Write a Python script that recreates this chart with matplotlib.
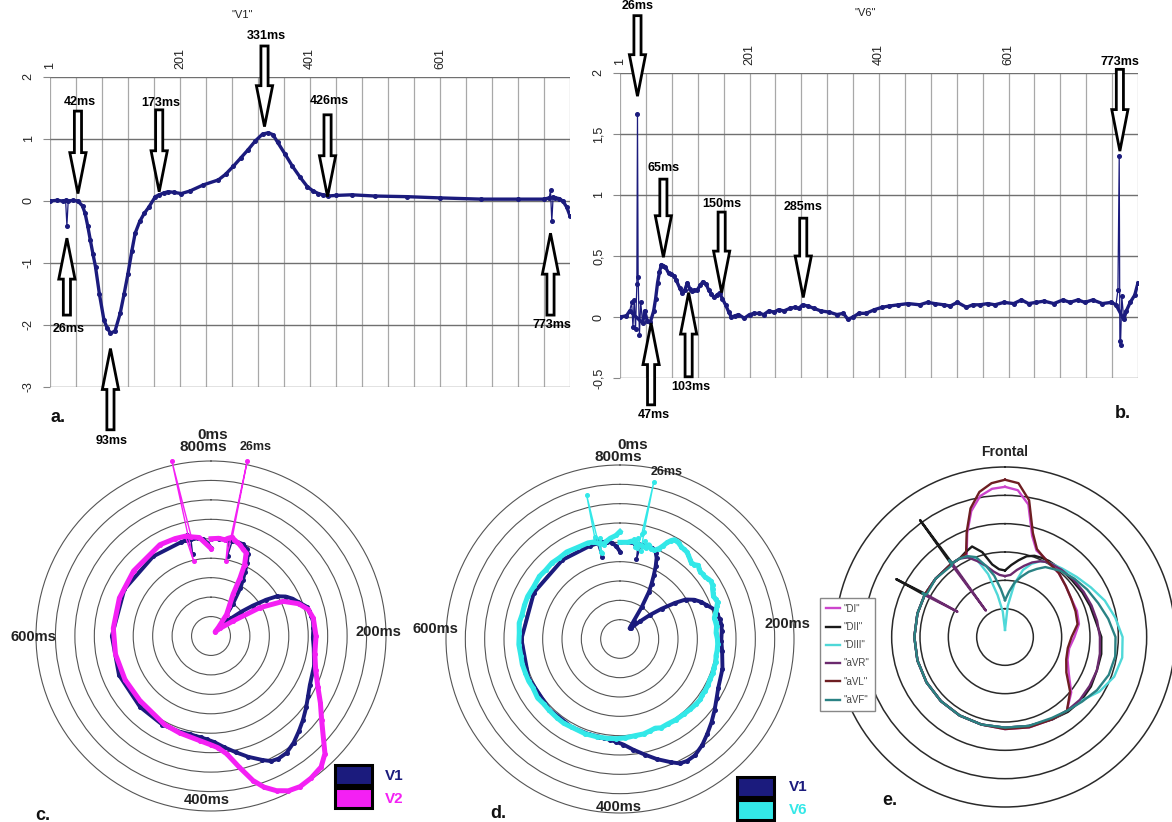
import numpy as np
import matplotlib
matplotlib.use('Agg')
import matplotlib.pyplot as plt
from matplotlib.patches import FancyArrow, Rectangle

# ---- data ----
# lead V1 (ms, mV)
v1_ms = [0, 10, 20, 24, 26, 28, 35, 43, 50, 54, 58, 62, 66, 70, 76, 83, 88, 93, 100, 108,
         114, 120, 126, 131, 138, 145, 152, 162, 168, 175, 182, 190, 202, 215, 236, 259, 270,
         282, 294, 305, 316, 327, 336, 343, 350, 362, 373, 385, 396, 405, 413, 420, 427, 440,
         464, 500, 549, 600, 663, 720, 760, 768, 770, 772, 774, 777, 783, 789, 795, 800]
v1_val = [0.0, 0.01, 0.0, 0.01, -0.4, 0.0, 0.01, 0.0, -0.08, -0.2, -0.4, -0.63, -0.85, -1.06,
          -1.5, -1.92, -2.05, -2.13, -2.1, -1.81, -1.5, -1.17, -0.8, -0.52, -0.33, -0.2, -0.1,
          0.07, 0.1, 0.13, 0.15, 0.14, 0.12, 0.16, 0.26, 0.34, 0.43, 0.56, 0.7, 0.83, 0.97,
          1.08, 1.1, 1.07, 0.95, 0.75, 0.56, 0.38, 0.23, 0.16, 0.12, 0.1, 0.08, 0.09, 0.1,
          0.08, 0.07, 0.05, 0.03, 0.03, 0.03, 0.05, 0.17, -0.33, 0.06, 0.05, 0.04, 0.0, -0.1, -0.24]
v1_spikes = [26, 770, 772]

# lead V6
v6_ms = [0, 10, 15, 18, 20, 22, 24, 26, 27, 28, 30, 32, 35, 38, 42, 47, 52, 55, 58, 61, 64, 67,
         70, 75, 79, 83, 87, 92, 96, 100, 104, 108, 111, 115, 119, 124, 128, 133, 137, 141, 145,
         150, 154, 158, 163, 168, 172, 178, 183, 192, 200, 207, 215, 222, 230, 238, 245, 253,
         262, 270, 276, 282, 290, 300, 310, 323, 335, 345, 352, 360, 369, 380, 393, 405, 416,
         430, 445, 463, 475, 486, 500, 510, 521, 535, 545, 556, 568, 579, 593, 608, 620, 631,
         643, 655, 670, 684, 695, 707, 718, 730, 745, 759, 766, 769, 771, 772, 773, 775, 778,
         782, 788, 795, 800]
v6_val = [0.0, 0.01, 0.05, 0.12, -0.08, 0.14, -0.1, 0.27, 1.66, 0.33, -0.15, 0.12, -0.05, 0.05,
          -0.03, -0.04, 0.05, 0.15, 0.28, 0.37, 0.43, 0.42, 0.41, 0.36, 0.35, 0.34, 0.3, 0.24,
          0.2, 0.22, 0.28, 0.23, 0.21, 0.22, 0.22, 0.26, 0.29, 0.27, 0.22, 0.19, 0.16, 0.18, 0.2,
          0.15, 0.1, 0.04, 0.0, 0.01, 0.02, -0.01, 0.02, 0.03, 0.03, 0.02, 0.05, 0.04, 0.06,
          0.05, 0.07, 0.08, 0.07, 0.1, 0.09, 0.07, 0.05, 0.04, 0.02, 0.03, -0.02, 0.0, 0.03,
          0.03, 0.06, 0.08, 0.09, 0.1, 0.11, 0.1, 0.12, 0.11, 0.1, 0.09, 0.12, 0.08, 0.1, 0.1,
          0.11, 0.1, 0.12, 0.11, 0.14, 0.11, 0.12, 0.13, 0.11, 0.14, 0.12, 0.14, 0.12, 0.14,
          0.11, 0.12, 0.1, 0.22, 1.32, -0.2, -0.23, 0.17, -0.02, 0.05, 0.12, 0.18, 0.28]
v6_spikes = [18, 20, 22, 24, 26, 27, 28, 30, 32, 769, 771, 772, 773, 775]

# lead V2 (only shown in the polar plot)
v2_ms = [0, 10, 18, 22, 25, 26, 27, 30, 35, 40, 45, 51, 56, 59, 62, 70, 80, 90, 100, 110, 124,
         133, 143, 155, 166, 178, 200, 222, 240, 257, 270, 283, 302, 311, 322, 332, 341, 349,
         357, 364, 373, 383, 392, 400, 413, 440, 462, 506, 540, 576, 610, 650, 689, 735, 755,
         768, 771, 772, 775, 785, 800]
v2_val = [0.0, 0.02, 0.0, 0.05, -0.53, 2.1, 0.1, 0.05, 0.0, -0.05, -0.12, -0.18, -0.47, -0.83,
          -1.29, -1.6, -1.82, -2.2, -2.35, -2.2, -1.81, -1.05, -0.44, -0.1, 0.09, 0.17, 0.2,
          0.21, 0.33, 0.55, 0.8, 1.08, 1.71, 1.9, 1.97, 2.0, 1.95, 1.82, 1.62, 1.37, 0.95, 0.56,
          0.38, 0.3, 0.21, 0.12, 0.07, -0.03, -0.02, 0.0, 0.02, 0.05, 0.1, 0.19, 0.17, 0.15,
          -0.53, 2.1, 0.1, 0.05, -0.25]
v2_spikes = [25, 26, 771, 772]

# frontal plane loops (angle in degrees, radius in grid rings)
front_deg = [0, 5, 10, 15, 20, 25, 30, 40, 50, 60, 70, 80, 90, 100, 110, 120, 130, 140, 150,
             165, 180, 195, 210, 225, 240, 255, 270, 285, 297.6, 298, 298.4, 310, 323.6, 324,
             324.4, 330, 335, 340, 345, 350, 355, 360]
front_DI = [5.3, 5.2, 4.75, 3.7, 3.25, 3.15, 3.05, 2.95, 2.8, 2.7, 2.7, 2.65, 2.45, 2.3, 2.35,
            2.6, 3.05, 3.4, 3.35, 3.3, 3.25, 3.2, 3.2, 3.2, 3.2, 3.2, 3.2, 3.2, 3.2, 3.0, 3.2,
            3.2, 3.2, 3.2, 3.2, 3.2, 3.2, 3.9, 4.6, 5.05, 5.25, 5.3]
front_DII = [2.35, 2.55, 2.75, 2.95, 3.05, 3.08, 3.1, 3.1, 3.1, 3.15, 3.2, 3.25, 3.4, 3.45, 3.45,
             3.5, 3.5, 3.45, 3.35, 3.25, 3.2, 3.2, 3.2, 3.2, 3.2, 3.2, 3.2, 3.2, 3.2, 4.35, 3.2,
             3.2, 3.2, 5.1, 3.2, 3.2, 3.3, 3.4, 3.1, 2.6, 2.4, 2.35]
front_DIII = [0.25, 1.1, 1.9, 2.45, 2.75, 2.95, 3.05, 3.15, 3.3, 3.5, 3.75, 3.95, 4.15, 4.2, 4.1,
              3.85, 3.5, 3.4, 3.35, 3.25, 3.2, 3.2, 3.2, 3.2, 3.2, 3.2, 3.2, 3.2, 3.2, 3.2, 3.2,
              3.2, 3.2, 3.2, 3.2, 3.2, 3.1, 2.9, 2.3, 1.5, 0.9, 0.25]
front_aVR = [2.15, 2.2, 2.4, 2.6, 2.8, 2.95, 3.05, 3.1, 3.15, 3.2, 3.25, 3.3, 3.35, 3.4, 3.45,
             3.45, 3.45, 3.4, 3.35, 3.25, 3.2, 3.2, 3.2, 3.2, 3.2, 3.2, 3.2, 3.2, 3.2, 1.9, 3.2,
             3.2, 3.2, 1.15, 3.2, 3.2, 3.1, 2.85, 2.6, 2.35, 2.2, 2.15]
front_aVL = [5.55, 5.45, 4.9, 3.8, 3.3, 3.15, 3.05, 2.95, 2.8, 2.7, 2.65, 2.6, 2.35, 2.25, 2.3,
             2.5, 3.0, 3.4, 3.35, 3.3, 3.25, 3.2, 3.2, 3.2, 3.2, 3.2, 3.2, 3.2, 3.2, 3.2, 3.2,
             3.2, 3.2, 3.2, 3.2, 3.2, 3.25, 3.95, 4.7, 5.2, 5.45, 5.55]
front_aVF = [1.3, 1.6, 1.95, 2.2, 2.45, 2.65, 2.85, 3.05, 3.2, 3.35, 3.5, 3.7, 3.9, 3.95, 3.9,
             3.75, 3.55, 3.4, 3.3, 3.25, 3.2, 3.2, 3.2, 3.2, 3.2, 3.2, 3.2, 3.2, 3.2, 3.3, 3.15,
             3.2, 3.15, 3.35, 3.2, 3.2, 3.15, 3.0, 2.6, 2.2, 1.7, 1.3]
front_names = ['"DI"', '"DII"', '"DIII"', '"aVR"', '"aVL"', '"aVF"']
front_colors = ['#cc44cc', '#1a1a1a', '#4fd8d8', '#6b2a6e', '#6e1e22', '#2a8284']

# annotated instants (ms)
marks_a_down = [42, 173, 331, 426]
marks_a_up = [26, 93, 773]
marks_b_down = [26, 65, 150, 285, 773]
marks_b_up = [47, 103]

navy = '#1b1b7d'
magenta = '#f420f4'
cyan = '#33e8e8'

W, H = 1172, 822
fig = plt.figure(figsize=(W / 100, H / 100), dpi=100)
plt.rcParams['font.family'] = ['Liberation Sans', 'DejaVu Sans']
narrow = ['Liberation Sans Narrow', 'Liberation Sans', 'DejaVu Sans']


def box(x0, y0, x1, y1):
    return [x0 / W, 1 - y1 / H, (x1 - x0) / W, (y1 - y0) / H]


def ftext(x, y, s, **kw):
    fig.text(x / W, 1 - y / H, s, ha=kw.pop('ha', 'center'), va=kw.pop('va', 'center'), **kw)


def trace(ax, x, y, spikes, col, thin, thick, ms, **kw):
    # thin dotted line through every sample, thick line without the spikes
    x = np.asarray(x, float)
    y = np.asarray(y, float)
    ms_arr = np.asarray(ms)
    keep = ~np.isin(ms_arr, spikes)
    ax.plot(x, y, color=col, lw=thin, marker='o', ms=2.6, **kw)
    ax.plot(x[keep], y[keep], color=col, lw=thick, solid_joinstyle='round', **kw)


def setup_line(ax, ylo, yhi, yt, ylab):
    ax.set_xlim(0, 800)
    ax.set_ylim(ylo, yhi)
    ax.xaxis.tick_top()
    ax.set_xticks([0, 200, 400, 600])
    ax.set_xticklabels(['1', '201', '401', '601'], rotation=90, fontsize=9, color='#222')
    ax.set_xticks(np.arange(0, 801, 40), minor=True)
    ax.set_yticks(yt)
    ax.set_yticklabels(ylab, rotation=90, va='center', fontsize=9, color='#222')
    ax.grid(which='both', axis='x', color='#a8a8a8', lw=0.9)
    ax.grid(axis='y', color='#707070', lw=1.0)
    ax.tick_params(axis='x', which='both', length=0, pad=6)
    ax.tick_params(axis='y', length=5, color='#888', pad=6)
    for s in ax.spines.values():
        s.set_visible(False)


def block_arrow(ax, x, tail, tip, shaft, hw, hl):
    ax.add_patch(FancyArrow(x, tail, 0, tip - tail, width=shaft, head_width=hw, head_length=hl,
                            length_includes_head=True, fc='white', ec='black', lw=2,
                            clip_on=False, zorder=6))


def lbl(ax, x, y, s, fs=9):
    ax.text(x, y, s, ha='center', va='center', fontsize=fs, fontweight='bold',
            family=narrow, clip_on=False, zorder=7)


# ---- panel a ----
ax_a = fig.add_axes(box(50, 77, 570, 387))
setup_line(ax_a, -3, 2, [-3, -2, -1, 0, 1, 2], ['-3', '-2', '-1', '0', '1', '2'])
trace(ax_a, v1_ms, v1_val, v1_spikes, navy, 0.9, 2.4, v1_ms, zorder=3)
ax_a.text(295, 2.0 + 62 / 62, '"V1"', fontsize=8, color='#222', ha='center', va='center',
          clip_on=False)
geo_a_down = [(1.45, 0.12, 1.6), (1.47, 0.15, 1.58), (2.5, 1.2, 2.66), (1.39, 0.07, 1.62)]
xa_down = [43, 168, 330, 427]
for ms, xx, (t, p, ly) in zip(marks_a_down, xa_down, geo_a_down):
    block_arrow(ax_a, xx, t, p, 11, 25, 0.66)
    lbl(ax_a, xx + 3, ly, f'{ms}ms')
geo_a_up = [(-1.84, -0.6, -2.06), (-3.69, -2.38, -3.87), (-1.84, -0.52, -2.0)]
xa_up = [26, 93, 770]
for ms, xx, (t, p, ly) in zip(marks_a_up, xa_up, geo_a_up):
    block_arrow(ax_a, xx, t, p, 11, 25, 0.66)
    lbl(ax_a, xx + 2, ly, f'{ms}ms')

# ---- panel b ----
ax_b = fig.add_axes(box(620, 73, 1138, 378))
setup_line(ax_b, -0.5, 2, [-0.5, 0, 0.5, 1, 1.5, 2], ['-0,5', '0', '0,5', '1', '1,5', '2'])
trace(ax_b, v6_ms, v6_val, v6_spikes, navy, 0.9, 2.4, v6_ms, zorder=3)
ax_b.text(378, 2.49, '"V6"', fontsize=8, color='#222', ha='center', va='center', clip_on=False)
geo_b_down = [(2.47, 1.81, 2.55), (1.13, 0.49, 1.22), (0.86, 0.2, 0.93), (0.81, 0.16, 0.9),
              (2.03, 1.36, 2.09)]
xb_down = [27, 67, 157, 283, 772]
for ms, xx, (t, p, ly) in zip(marks_b_down, xb_down, geo_b_down):
    block_arrow(ax_b, xx, t, p, 11, 25, 0.34)
    lbl(ax_b, xx, ly, f'{ms}ms')
geo_b_up = [(-0.72, -0.05, -0.8), (-0.49, 0.2, -0.57)]
xb_up = [48, 106]
for ms, xx, (t, p, ly) in zip(marks_b_up, xb_up, geo_b_up):
    block_arrow(ax_b, xx, t, p, 11, 25, 0.34)
    lbl(ax_b, xx + 4, ly, f'{ms}ms')


# ---- polar panels c, d ----
def setup_polar(ax, rlo, rhi, rings, col, lw):
    ax.set_theta_zero_location('N')
    ax.set_theta_direction(-1)
    ax.set_ylim(rlo, rhi)
    ax.set_yticks(rings)
    ax.set_yticklabels([])
    ax.set_xticks([])
    ax.grid(axis='y', color=col, lw=lw)
    ax.spines['polar'].set_color(col)
    ax.spines['polar'].set_linewidth(lw)


def ang(ms):
    return np.array(ms) / 800 * 2 * np.pi


rings_cd = [-2, -1.5, -1, -0.5, 0, 0.5, 1, 1.5]
ax_c = fig.add_axes(box(36, 461, 386, 811), projection='polar')
setup_polar(ax_c, -2.5, 2.0, rings_cd, '#555555', 0.8)
trace(ax_c, ang(v1_ms), v1_val, v1_spikes, navy, 1.0, 2.8, v1_ms, clip_on=False, zorder=3)
trace(ax_c, ang(v2_ms), v2_val, v2_spikes, magenta, 1.0, 3.6, v2_ms, clip_on=False, zorder=4)

ax_d = fig.add_axes(box(446, 465, 794, 813), projection='polar')
setup_polar(ax_d, -2.5, 2.0, rings_cd, '#555555', 0.8)
trace(ax_d, ang(v1_ms), v1_val, v1_spikes, navy, 1.0, 2.8, v1_ms, clip_on=False, zorder=3)
trace(ax_d, ang(v6_ms), v6_val, v6_spikes, cyan, 1.0, 3.6, v6_ms, clip_on=False, zorder=4)

lab_kw = dict(fontweight='bold', color='#222')
ftext(213, 435, '0ms', fontsize=11, **lab_kw)
ftext(203, 447, '800ms', fontsize=11, **lab_kw)
ftext(256, 447, '26ms', fontsize=9, family=narrow, **lab_kw)
ftext(33, 637, '600ms', fontsize=10.5, **lab_kw)
ftext(378, 632, '200ms', fontsize=10.5, **lab_kw)
ftext(207, 800, '400ms', fontsize=10.5, **lab_kw)

ftext(633, 445, '0ms', fontsize=11, **lab_kw)
ftext(618, 457, '800ms', fontsize=11, **lab_kw)
ftext(667, 472, '26ms', fontsize=9, family=narrow, **lab_kw)
ftext(435, 629, '600ms', fontsize=10.5, **lab_kw)
ftext(787, 624, '200ms', fontsize=10.5, **lab_kw)
ftext(619, 807, '400ms', fontsize=10.5, **lab_kw)

# square legends of c and d
for (x0, y0, col) in [(335, 765, navy), (335, 788, magenta), (737, 777, navy), (737, 800, cyan)]:
    fig.add_artist(Rectangle((x0 / W, 1 - (y0 + 20) / H), 37 / W, 20 / H,
                             transform=fig.transFigure, fc=col, ec='black', lw=2.2))
ftext(385, 776, 'V1', fontsize=11, fontweight='bold', color=navy, ha='left')
ftext(385, 799, 'V2', fontsize=11, fontweight='bold', color=magenta, ha='left')
ftext(789, 787, 'V1', fontsize=11, fontweight='bold', color=navy, ha='left')
ftext(789, 810, 'V6', fontsize=11, fontweight='bold', color=cyan, ha='left')

# ---- panel e ----
ax_e = fig.add_axes(box(835, 467, 1175, 807), projection='polar')
setup_polar(ax_e, 0, 6, [1, 2, 3, 4, 5], '#2a2a2a', 1.1)
th_e = np.deg2rad(front_deg)
front_series = [front_DI, front_DII, front_DIII, front_aVR, front_aVL, front_aVF]
handles = []
for name, col, r in zip(front_names, front_colors, front_series):
    h, = ax_e.plot(th_e, r, color=col, lw=1.7, label=name, zorder=3)
    handles.append(h)
ax_e.legend(handles=handles, loc='upper left', bbox_to_anchor=(815 / W, 1 - 593 / H),
            bbox_transform=fig.transFigure, fontsize=7, frameon=True, fancybox=False,
            edgecolor='#888888', framealpha=1, handlelength=1.5, handletextpad=0.3,
            labelspacing=0.85, borderpad=0.6, labelcolor='#444444')
ftext(1005, 452, 'Frontal', fontsize=10, fontweight='bold', color='#222')

# panel letters
for x, y, s in [(58, 417, 'a.'), (1123, 413, 'b.'), (43, 815, 'c.'), (498, 813, 'd.'),
                (890, 800, 'e.')]:
    ftext(x, y, s, fontsize=13, fontweight='bold', color='#111')

fig.savefig('out.png', dpi=100)
